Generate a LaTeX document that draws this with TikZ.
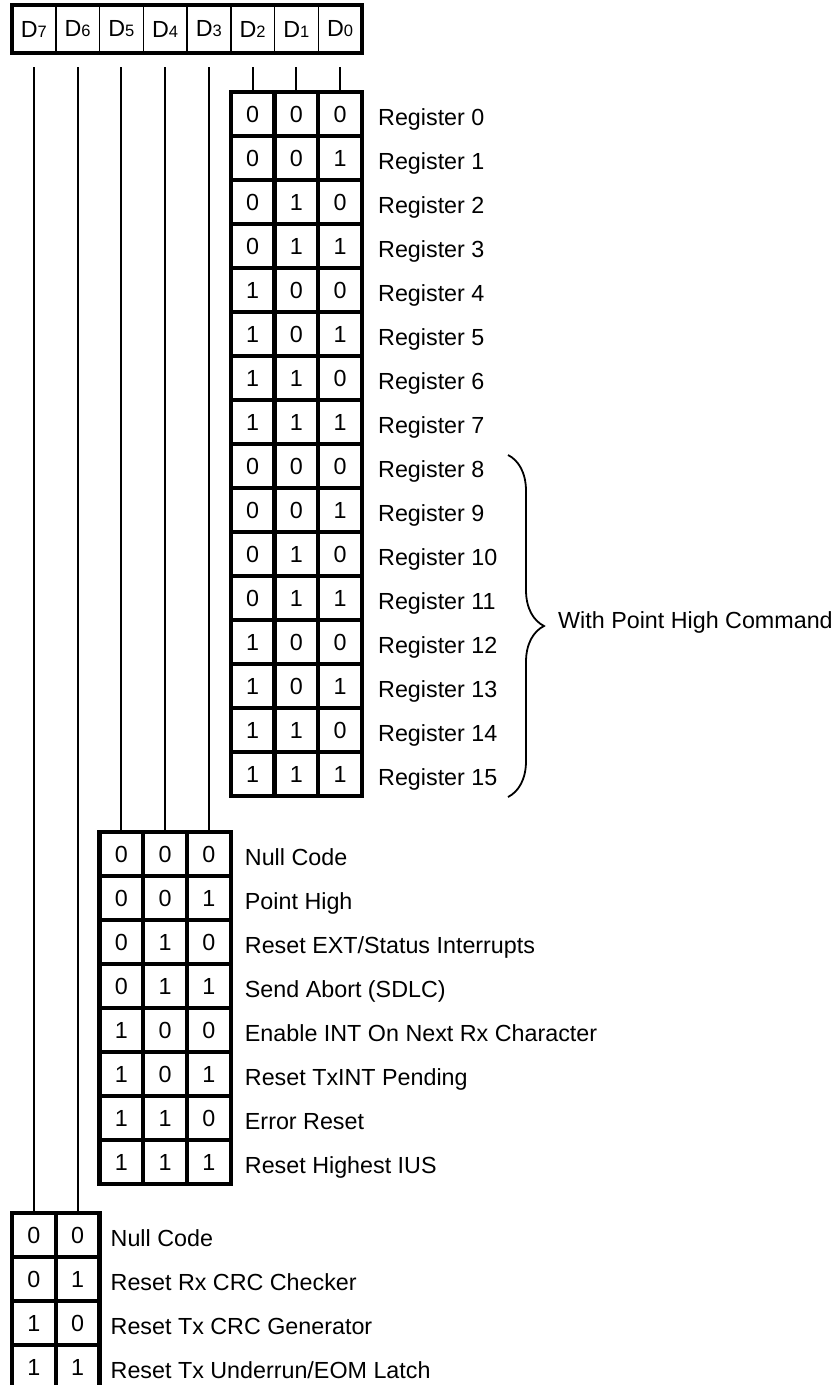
\documentclass[tikz,border=0pt]{standalone}
\usepackage{fontspec}
\setmainfont{Liberation Sans}
\usetikzlibrary{decorations.pathreplacing}

\tikzset{
    hcell/.style={draw, line width=1.5pt, minimum width=43.75pt, minimum height=48pt,
        inner sep=0pt, outer sep=0pt, anchor=north west},
    bitcell/.style={draw, line width=4.4pt, minimum width=43.75pt, minimum height=44pt,
        inner sep=0pt, outer sep=0pt, anchor=north west},
    lbl/.style={anchor=base west, inner sep=0pt},
    wire/.style={line width=1.8pt},
}

\begin{document}
\begin{tikzpicture}[x=1pt, y=-1pt, font=\fontsize{23.3}{28}\selectfont]
    \useasboundingbox (0,0) rectangle (835,1385);

    % header D7 ... D0
    \foreach \b [count=\i from 0] in {7,6,5,4,3,2,1,0}
        \node[hcell] (d\b) at (12+\i*43.75, 5) {D{\fontsize{16.5}{17}\selectfont\b}};
    \draw[line width=4.5pt] (d7.north west) rectangle (d0.south east);

    % registers (D2 D1 D0)
    \foreach \n in {0,...,15} {
        \pgfmathtruncatemacro{\ba}{mod(floor(\n/4),2)}
        \pgfmathtruncatemacro{\bb}{mod(floor(\n/2),2)}
        \pgfmathtruncatemacro{\bc}{mod(\n,2)}
        \node[bitcell] (reg-\n-0) at (230.75, 92+\n*44) {\ba};
        \node[bitcell] (reg-\n-1) at (274.5, 92+\n*44) {\bb};
        \node[bitcell] (reg-\n-2) at (318.25, 92+\n*44) {\bc};
        \node[lbl] (regl-\n) at ([xshift=16pt, yshift=-11pt]reg-\n-2.east) {Register \n};
    }

    % commands (D5 D4 D3)
    \foreach \t [count=\n from 0] in {Null Code, Point High, Reset EXT/Status Interrupts,
            {Send Abort (SDLC)}, Enable INT On Next Rx Character, Reset TxINT Pending,
            Error Reset, Reset Highest IUS} {
        \pgfmathtruncatemacro{\ba}{mod(floor(\n/4),2)}
        \pgfmathtruncatemacro{\bb}{mod(floor(\n/2),2)}
        \pgfmathtruncatemacro{\bc}{mod(\n,2)}
        \node[bitcell] (cmd-\n-0) at (99.5, 832+\n*44) {\ba};
        \node[bitcell] (cmd-\n-1) at (143.25, 832+\n*44) {\bb};
        \node[bitcell] (cmd-\n-2) at (187, 832+\n*44) {\bc};
        \node[lbl] (cmdl-\n) at ([xshift=14pt, yshift=-11pt]cmd-\n-2.east) {\t};
    }

    % CRC reset codes (D7 D6)
    \foreach \t [count=\n from 0] in {Null Code, Reset Rx CRC Checker,
            Reset Tx CRC Generator, Reset Tx Underrun/EOM Latch} {
        \pgfmathtruncatemacro{\ba}{mod(floor(\n/2),2)}
        \pgfmathtruncatemacro{\bb}{mod(\n,2)}
        \node[bitcell] (crc-\n-0) at (12, 1213+\n*44) {\ba};
        \node[bitcell] (crc-\n-1) at (55.75, 1213+\n*44) {\bb};
        \node[lbl] (crcl-\n) at ([xshift=11pt, yshift=-11pt]crc-\n-1.east) {\t};
    }

    % bit lines
    \foreach \b/\tgt in {7/crc-0-0, 6/crc-0-1, 5/cmd-0-0, 4/cmd-0-1, 3/cmd-0-2,
            2/reg-0-0, 1/reg-0-1, 0/reg-0-2}
        \draw[wire] ([yshift=-14pt]d\b.south) -- (\tgt.north);

    % brace for registers 8-15
    \coordinate (btop) at (508,455);
    \coordinate (bbot) at (508,797);
    \draw[line width=1.8pt, decorate, decoration={brace, amplitude=36pt}] (btop) -- (bbot);
    \node[anchor=west, inner sep=0pt] (phigh) at (558,622) {With Point High Command};
\end{tikzpicture}
\end{document}
